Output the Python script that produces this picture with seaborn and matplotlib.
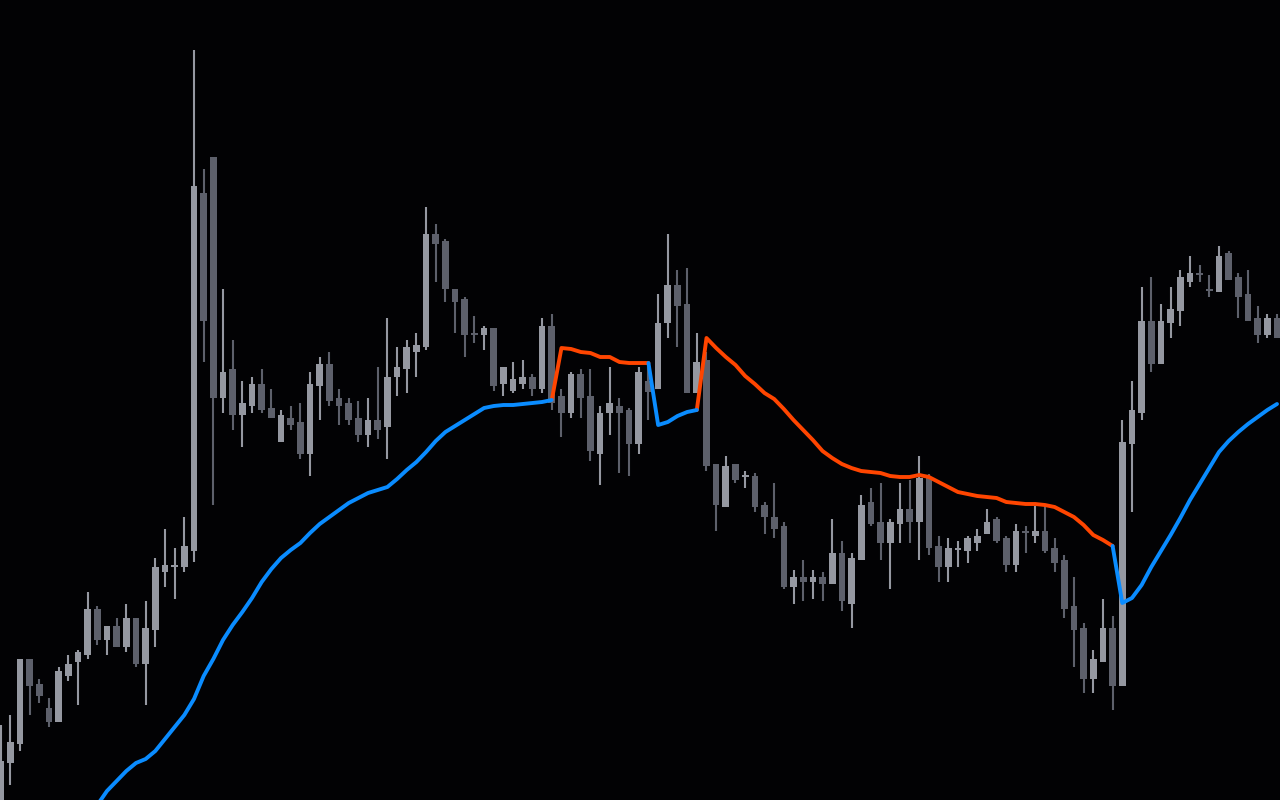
import numpy as np
import pandas as pd
import matplotlib
matplotlib.use('Agg')
import matplotlib.pyplot as plt
import seaborn as sns

# OHLC candles (price units)
opens = [19.5, 23.7, 25.6, 34.1, 31.6, 29.2, 27.8, 32.4, 33.8, 34.5,
         39.1, 36.0, 37.4, 35.3, 38.2, 33.6, 37.0, 42.8, 43.3, 43.3,
         44.9, 80.7, 84.3, 60.2, 63.1, 58.5, 59.4, 61.6, 59.2, 55.8,
         58.2, 57.8, 54.6, 61.4, 63.6, 60.2, 59.7, 58.2, 56.5, 58.0,
         57.3, 62.3, 63.1, 64.8, 65.3, 76.6, 75.9, 71.1, 70.1, 66.7,
         66.5, 67.2, 61.6, 60.9, 61.6, 62.3, 61.1, 67.4, 60.4, 58.7,
         62.6, 60.4, 54.6, 58.7, 59.4, 59.0, 55.6, 61.9, 61.1, 67.7,
         71.5, 69.6, 60.7, 64.0, 53.6, 49.3, 53.6, 52.3, 52.4, 49.5,
         48.3, 47.4, 41.3, 42.3, 41.8, 42.3, 41.6, 44.7, 39.6, 44.0,
         49.8, 47.8, 45.7, 47.6, 49.1, 47.8, 52.2, 45.4, 43.3, 45.0,
         44.9, 45.7, 46.6, 48.1, 46.2, 43.5, 46.9, 46.4, 46.9, 45.2,
         44.0, 39.4, 37.2, 32.1, 33.8, 37.2, 31.4, 55.6, 58.7, 67.9,
         63.6, 67.7, 68.9, 71.8, 72.7, 71.1, 70.8, 74.7, 72.3, 70.6,
         68.2, 66.5, 68.2]
highs = [27.5, 28.5, 34.1, 34.1, 32.1, 30.2, 33.3, 34.5, 35.0, 40.8,
         39.4, 37.4, 38.2, 39.6, 38.2, 39.9, 44.2, 47.1, 45.2, 48.3,
         95.0, 83.1, 84.3, 71.1, 66.0, 61.9, 62.3, 63.1, 61.1, 59.0,
         59.4, 59.7, 62.8, 64.3, 64.8, 61.1, 60.2, 59.9, 60.2, 63.3,
         68.2, 65.3, 66.0, 66.7, 79.3, 77.6, 76.1, 71.1, 70.3, 68.4,
         67.4, 67.2, 63.3, 63.8, 64.0, 62.6, 68.2, 68.6, 61.1, 62.8,
         63.1, 63.1, 59.4, 63.3, 60.2, 59.2, 63.3, 63.7, 70.6, 76.6,
         73.0, 73.2, 66.7, 64.8, 53.6, 54.4, 53.6, 52.9, 52.7, 49.8,
         51.7, 47.8, 43.0, 44.0, 43.0, 42.8, 48.1, 45.9, 44.7, 50.5,
         51.2, 51.7, 48.1, 51.7, 52.0, 54.4, 52.6, 46.4, 46.2, 45.9,
         46.4, 47.1, 49.1, 48.3, 46.4, 47.6, 47.4, 49.4, 49.4, 46.2,
         44.5, 42.3, 37.7, 35.0, 40.1, 38.4, 58.0, 61.9, 71.3, 72.3,
         69.6, 71.3, 73.0, 74.4, 73.5, 72.5, 75.4, 74.9, 72.7, 73.0,
         69.4, 68.6, 68.6]
lows = [19.0, 21.5, 24.9, 28.5, 29.7, 27.3, 27.8, 31.9, 29.5, 34.1,
        35.5, 34.5, 35.3, 34.8, 33.3, 29.5, 35.3, 41.3, 40.1, 42.8,
        43.8, 63.8, 49.5, 58.7, 57.0, 55.3, 58.7, 58.7, 58.2, 55.8,
        57.0, 54.1, 52.4, 58.0, 59.4, 57.5, 57.5, 55.8, 55.3, 56.1,
        54.1, 60.4, 60.7, 62.3, 65.0, 71.8, 69.8, 66.7, 64.3, 65.7,
        65.0, 60.9, 60.4, 60.7, 61.1, 60.4, 60.7, 59.0, 56.3, 58.2,
        58.2, 53.9, 51.5, 56.5, 52.7, 52.4, 54.6, 58.0, 61.1, 66.2,
        65.3, 60.7, 60.7, 52.9, 46.9, 49.3, 51.7, 51.2, 48.8, 46.6,
        46.2, 41.1, 39.6, 39.9, 40.1, 39.9, 41.6, 38.9, 37.2, 44.0,
        47.4, 44.0, 41.1, 45.7, 45.7, 44.0, 44.5, 41.8, 41.8, 43.3,
        43.7, 44.9, 46.6, 45.7, 42.8, 42.8, 44.7, 45.7, 44.7, 42.8,
        38.2, 33.3, 30.7, 30.7, 33.8, 29.0, 31.4, 48.8, 58.0, 62.8,
        63.6, 66.2, 67.4, 71.3, 71.8, 70.3, 70.8, 72.0, 68.2, 67.9,
        65.7, 66.2, 66.2]
closes = [23.9, 25.8, 34.1, 31.4, 30.4, 27.8, 32.9, 33.6, 34.8, 39.1,
          36.0, 37.4, 35.3, 38.2, 33.6, 37.2, 43.3, 43.5, 43.4, 45.4,
          81.4, 67.9, 60.2, 62.8, 58.5, 59.7, 61.6, 59.0, 58.2, 58.5,
          57.5, 54.6, 61.6, 63.6, 59.9, 59.4, 58.0, 56.5, 58.0, 57.0,
          62.3, 63.3, 65.3, 65.5, 76.6, 75.6, 71.1, 69.8, 66.5, 66.5,
          67.2, 61.4, 63.3, 62.1, 62.3, 61.1, 67.4, 59.7, 58.7, 62.6,
          60.2, 54.9, 58.7, 59.7, 58.7, 55.6, 62.8, 60.8, 67.7, 71.5,
          69.4, 60.7, 63.8, 53.4, 49.5, 53.4, 52.0, 52.4, 49.3, 48.3,
          47.1, 41.3, 42.3, 41.8, 42.3, 41.6, 44.7, 39.9, 44.2, 49.5,
          47.6, 45.7, 47.8, 49.1, 47.8, 52.2, 45.2, 43.3, 45.2, 45.2,
          46.2, 46.4, 47.8, 45.9, 43.5, 46.9, 46.7, 46.9, 44.9, 43.7,
          39.1, 37.0, 32.1, 34.1, 37.2, 31.4, 55.8, 59.0, 67.9, 63.6,
          67.9, 69.1, 72.3, 72.7, 72.5, 70.9, 74.4, 72.0, 70.3, 67.9,
          66.5, 68.2, 66.2]

# trailing stop line and its direction (1 = up / blue, -1 = down / red)
stop = [np.nan] * 10 + [
    19.5, 20.9, 21.9, 22.9, 23.7, 24.1, 24.9, 26.1, 27.3, 28.5,
    30.1, 32.4, 34.1, 36.0, 37.5, 38.8, 40.2, 41.8, 43.1, 44.2,
    45.0, 45.7, 46.7, 47.6, 48.3, 49.0, 49.7, 50.2, 50.7, 51.0,
    51.3, 52.1, 53.0, 53.8, 54.8, 55.9, 56.8, 57.4, 58.0, 58.6,
    59.2, 59.4, 59.5, 59.5, 59.6, 59.7, 59.8, 60.0,
    65.2, 65.1, 64.8, 64.7, 64.3, 64.3, 63.8, 63.7, 63.7, 63.7,
    57.5, 57.8, 58.4, 58.8, 59.0,
    66.2, 65.2, 64.3, 63.5, 62.4, 61.6, 60.7, 60.1, 59.1, 58.0,
    57.0, 56.0, 54.9, 54.2, 53.6, 53.2, 52.9, 52.8, 52.7, 52.4,
    52.3, 52.3, 52.5, 52.3, 51.8, 51.3, 50.8, 50.6, 50.4, 50.3,
    50.2, 49.8, 49.7, 49.6, 49.6, 49.5, 49.3, 48.8, 48.3, 47.5,
    46.5, 46.0, 45.4,
    39.7, 40.2, 41.5, 43.3, 44.9, 46.5, 48.2, 50.0, 51.6, 53.2,
    54.8, 55.9, 56.8, 57.6, 58.3, 59.0, 59.6]
trend = [0] * 10 + [1] * 48 + [-1] * 10 + [1] * 5 + [-1] * 43 + [1] * 17

UP_CANDLE = '#9598a1'
DOWN_CANDLE = '#5d606b'
UP_LINE = '#0a8cff'
DOWN_LINE = '#ff4500'
BG = '#020204'

df = pd.DataFrame({'open': opens, 'high': highs, 'low': lows,
                   'close': closes, 'stop': stop, 'trend': trend})
df['idx'] = np.arange(len(df))
df['bull'] = df['close'] >= df['open']
df['color'] = np.where(df['bull'], UP_CANDLE, DOWN_CANDLE)

# split line into runs of same direction; segment j-1 -> j takes colour of j
rows = []
run = 0
prev_dir = None
for j in range(1, len(df)):
    if np.isnan(df['stop'][j - 1]) or np.isnan(df['stop'][j]):
        prev_dir = None
        continue
    if trend[j] != prev_dir:
        run += 1
        rows.append({'idx': j - 1, 'stop': df['stop'][j - 1], 'dir': trend[j], 'run': run})
        prev_dir = trend[j]
    rows.append({'idx': j, 'stop': df['stop'][j], 'dir': trend[j], 'run': run})
line_df = pd.DataFrame(rows)

sns.set_theme(style='dark', rc={'axes.facecolor': BG, 'figure.facecolor': BG})

fig = plt.figure(figsize=(12.8, 8), dpi=100)
ax = fig.add_axes([0, 0, 1, 1])
ax.set_facecolor(BG)

# wicks
ax.vlines(df['idx'], df['low'], df['high'], colors=df['color'], linewidth=1.5)
# bodies
body = (df['close'] - df['open']).abs().clip(lower=0.2)
ax.bar(df['idx'], body, bottom=df[['open', 'close']].min(axis=1),
       width=0.69, color=df['color'], linewidth=0)

sns.lineplot(data=line_df, x='idx', y='stop', hue='dir', units='run',
             estimator=None, sort=False, palette={1: UP_LINE, -1: DOWN_LINE},
             linewidth=2.8, legend=False, ax=ax)

ax.set_xlim(-0.062, 132.31)
ax.set_ylim(20, 100)
ax.set_axis_off()

fig.savefig('out.png', dpi=100, facecolor=BG)
